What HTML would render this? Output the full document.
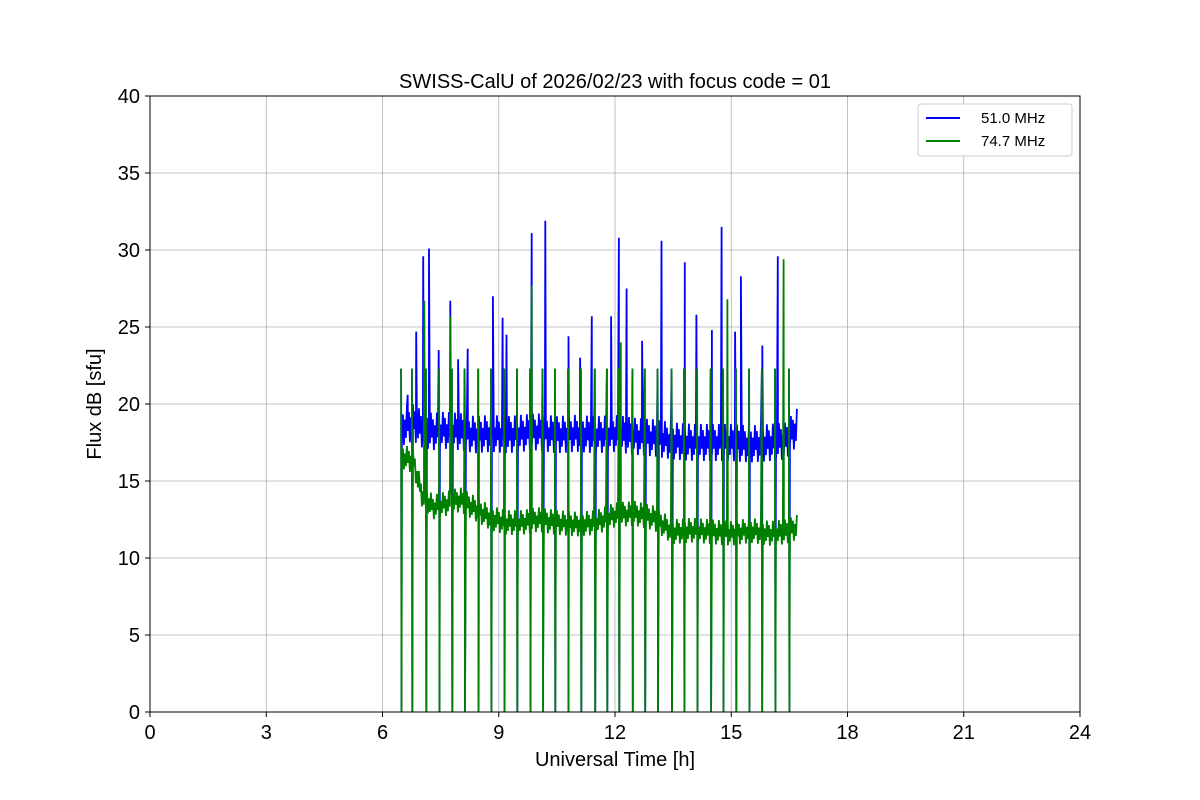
<!DOCTYPE html>
<html><head><meta charset="utf-8">
<style>
body{margin:0;background:#fff;}
svg{display:block;font-family:"Liberation Sans","DejaVu Sans",sans-serif;}
</style></head>
<body>
<svg id="chart" width="1200" height="800">
<rect x="0" y="0" width="1200" height="800" fill="#fff"/>
<g id="grid"></g>
<g id="series"></g>
<rect x="150" y="96" width="930" height="616" fill="none" stroke="#000" stroke-width="1"/>
<g id="ticks"></g>
<text x="615" y="88" font-size="20" text-anchor="middle">SWISS-CalU of 2026/02/23 with focus code = 01</text>
<text x="615" y="766" font-size="20" text-anchor="middle">Universal Time [h]</text>
<text x="101" y="404" font-size="20" text-anchor="middle" transform="rotate(-90 101 404)">Flux dB [sfu]</text>
<g>
<rect x="918" y="104" width="154" height="52" rx="3" fill="#fff" stroke="#ccc"/>
<line x1="926" y1="118" x2="960" y2="118" stroke="#0000ff" stroke-width="2"/>
<text x="981" y="123" font-size="15">51.0 MHz</text>
<line x1="926" y1="141" x2="960" y2="141" stroke="#008000" stroke-width="2"/>
<text x="981" y="146" font-size="15">74.7 MHz</text>
</g>
</svg>
<script>
const xTicks=[0,3,6,9,12,15,18,21,24];
const yTicks=[0,5,10,15,20,25,30,35,40];
const baseTimes=[6.5,6.8,7.0,7.3,7.6,8.0,8.4,8.8,9.2,9.6,10.0,10.5,11.0,11.5,12.0,12.5,13.0,13.5,14.0,14.5,15.0,15.5,16.0,16.4,16.7];
const blueBase=[18.5,18.8,18.4,18.2,18.3,18.2,18.0,18.1,18.0,18.1,18.2,18.0,18.1,18.0,18.1,17.9,17.8,17.6,17.5,17.5,17.5,17.4,17.5,17.6,18.5];
const greenBase=[16.6,16.3,14.2,13.3,13.5,13.8,13.2,12.6,12.3,12.3,12.5,12.3,12.2,12.3,12.8,12.9,12.6,11.7,11.8,11.7,11.6,11.8,11.6,11.7,12.0];
const blueSpikeT=[6.65,6.87,7.05,7.2,7.45,7.75,7.95,8.2,8.85,9.1,9.2,9.85,10.2,10.8,11.1,11.4,11.9,12.1,12.3,12.7,13.2,13.8,14.1,14.5,14.75,15.1,15.25,15.8,16.2,16.7];
const blueSpikeV=[20.6,24.7,29.6,30.1,23.5,26.7,22.9,23.6,27.0,25.6,24.5,31.1,31.9,24.4,23.0,25.7,25.7,30.8,27.5,24.1,30.6,29.2,25.8,24.8,31.5,24.7,28.3,23.8,29.6,22.0];
const greenSpikeT=[7.08,7.75,9.85,12.15,14.9,16.35];
const greenSpikeV=[26.7,25.7,27.7,24.0,26.8,29.4];
const dropT=[6.48,6.76,7.12,7.46,7.79,8.12,8.47,8.80,9.14,9.47,9.81,10.13,10.45,10.79,11.12,11.48,11.79,12.10,12.45,12.77,13.10,13.46,13.78,14.12,14.47,14.79,15.12,15.46,15.79,16.13,16.49];
const dropPeak=22.3;
const X=h=>150+h*930/24, Y=v=>712-v*616/40;
const NS="http://www.w3.org/2000/svg";
function mk(tag,attrs,parent){const e=document.createElementNS(NS,tag);for(const k in attrs)e.setAttribute(k,attrs[k]);parent.appendChild(e);return e;}
const grid=document.getElementById('grid'),ticks=document.getElementById('ticks'),series=document.getElementById('series');
xTicks.forEach(t=>{
 const g=mk('line',{x1:X(t),x2:X(t),y1:96,y2:712,stroke:'#b0b0b0','stroke-width':0.8},grid);
 
 
 mk('line',{x1:X(t),x2:X(t),y1:712,y2:717,stroke:'#000'},ticks);
 const tx=mk('text',{x:X(t),y:739,'font-size':20,'text-anchor':'middle'},ticks);tx.textContent=t;
 
 
});
yTicks.forEach(t=>{
 const g=mk('line',{x1:150,x2:1080,y1:Y(t),y2:Y(t),stroke:'#b0b0b0','stroke-width':0.8},grid);
 
 
 mk('line',{x1:145,x2:150,y1:Y(t),y2:Y(t),stroke:'#000'},ticks);
 const tx=mk('text',{x:140,y:Y(t)+7,'font-size':20,'text-anchor':'end'},ticks);tx.textContent=t;
 
 
});
function baseAt(arr,t){for(let i=0;i<baseTimes.length-1;i++){if(t<=baseTimes[i+1]){const f=(t-baseTimes[i])/(baseTimes[i+1]-baseTimes[i]);return arr[i]+f*(arr[i+1]-arr[i]);}}return arr[arr.length-1];}
function buildPath(arr,amp,spT,spV,drops){
 const evs=[];
 for(let i=0;i<spT.length;i++)evs.push({t:spT[i],v:spV[i]});
 if(drops)drops.forEach(t=>{evs.push({t:t,v:dropPeak});evs.push({t:t+0.01,v:0});});
 evs.sort((a,b)=>a.t-b.t);
 let d='',k=0,ei=0;const t0=baseTimes[0],t1=baseTimes[baseTimes.length-1];
 for(let px=X(t0);px<=X(t1);px+=1){
  const t=(px-150)*24/930;
  while(ei<evs.length&&evs[ei].t<=t){const e=evs[ei];d+=(d?'L':'M')+X(e.t).toFixed(1)+' '+Y(e.v).toFixed(1);ei++;}
  const v=baseAt(arr,t)+(k%2?amp:-amp)*((k%3)+1)/3;k++;
  d+=(d?'L':'M')+px.toFixed(1)+' '+Y(v).toFixed(1);
 }
 return d;
}
const bp=mk('path',{d:buildPath(blueBase,1.2,blueSpikeT,blueSpikeV,dropT),fill:'none',stroke:'#0000ff','stroke-width':1.8},series);


const gp=mk('path',{d:buildPath(greenBase,0.8,greenSpikeT,greenSpikeV,dropT),fill:'none',stroke:'#008000','stroke-width':1.8},series);


</script>
</body></html>
